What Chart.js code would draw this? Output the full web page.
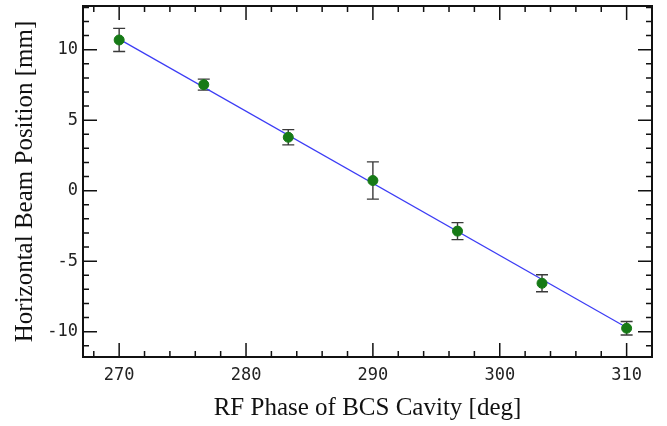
<!DOCTYPE html>
<html>
<head>
<meta charset="utf-8">
<script src="https://cdn.jsdelivr.net/npm/chart.js@4/dist/chart.umd.min.js"></script>
<style>
  html, body { margin: 0; padding: 0; background: #fff; }
  #wrap { width: 667px; height: 426px; }
</style>
</head>
<body>
<div id="wrap"><canvas id="chart"></canvas></div>
<script>
// RF phase settings [deg]
const phase = [270, 276.67, 283.33, 290, 296.67, 303.33, 310];
// measured horizontal beam position [mm]
const position = [10.69, 7.52, 3.79, 0.72, -2.87, -6.57, -9.76];
// error bar half widths [mm]
const posError = [0.82, 0.39, 0.54, 1.32, 0.6, 0.6, 0.48];
// straight line fit, read at both ends
const fitPhase = [270, 310];
const fitPosition = [10.75, -9.7];

const xTicks = [270, 280, 290, 300, 310];
const yTicks = [-10, -5, 0, 5, 10];
const xMinorStep = 2;
const yMinorStep = 1;

const tickFont = { family: 'DejaVu Sans Mono', size: 17 };
const titleFont = { family: 'Liberation Serif', size: 25 };

// error bars go under the markers
const errorBars = {
    id: 'errorBars',
    beforeDatasetsDraw(chart) {
        const { ctx, scales: { x, y } } = chart;
        ctx.save();
        ctx.strokeStyle = '#3a3a3a';
        ctx.lineWidth = 1.4;
        phase.forEach((p, i) => {
            const px = x.getPixelForValue(p);
            const top = y.getPixelForValue(position[i] + posError[i]);
            const bot = y.getPixelForValue(position[i] - posError[i]);
            ctx.beginPath();
            ctx.moveTo(px, top); ctx.lineTo(px, bot);
            ctx.moveTo(px - 6, top); ctx.lineTo(px + 6, top);
            ctx.moveTo(px - 6, bot); ctx.lineTo(px + 6, bot);
            ctx.stroke();
        });
        ctx.restore();
    }
};

// box frame with inward ticks on all four sides
const frame = {
    id: 'frame',
    afterDraw(chart) {
        const { ctx, chartArea: a, scales: { x, y } } = chart;
        ctx.save();
        ctx.strokeStyle = '#111';
        ctx.lineWidth = 1.5;
        const majX = new Set(xTicks);
        for (let v = Math.ceil(x.min / xMinorStep) * xMinorStep; v <= x.max; v += xMinorStep) {
            const px = x.getPixelForValue(v);
            const len = majX.has(v) ? 14 : 6;
            ctx.beginPath();
            ctx.moveTo(px, a.bottom); ctx.lineTo(px, a.bottom - len);
            ctx.moveTo(px, a.top); ctx.lineTo(px, a.top + len);
            ctx.stroke();
        }
        const majY = new Set(yTicks);
        for (let v = Math.ceil(y.min / yMinorStep) * yMinorStep; v <= y.max; v += yMinorStep) {
            const py = y.getPixelForValue(v);
            const len = majY.has(v) ? 14 : 6;
            ctx.beginPath();
            ctx.moveTo(a.left, py); ctx.lineTo(a.left + len, py);
            ctx.moveTo(a.right, py); ctx.lineTo(a.right - len, py);
            ctx.stroke();
        }
        ctx.lineWidth = 2;
        ctx.strokeRect(a.left, a.top, a.right - a.left, a.bottom - a.top);
        ctx.restore();
    }
};

new Chart(document.getElementById('chart'), {
    type: 'scatter',
    data: {
        datasets: [
            {
                label: 'Measured',
                data: phase.map((p, i) => ({ x: p, y: position[i] })),
                backgroundColor: '#167a16',
                borderColor: '#167a16',
                pointRadius: 5,
                pointHoverRadius: 5,
                order: 1
            },
            {
                label: 'Fit',
                type: 'line',
                data: fitPhase.map((p, i) => ({ x: p, y: fitPosition[i] })),
                borderColor: '#3c3cf5',
                borderWidth: 1.2,
                pointRadius: 0,
                fill: false,
                order: 2
            }
        ]
    },
    options: {
        responsive: true,
        maintainAspectRatio: false,
        animation: false,
        events: [],
        layout: { padding: { left: 0, right: 15, top: 5, bottom: 0 } },
        plugins: { legend: { display: false }, tooltip: { enabled: false } },
        scales: {
            x: {
                type: 'linear',
                min: 267.15,
                max: 312,
                afterBuildTicks: s => { s.ticks = xTicks.map(v => ({ value: v })); },
                afterFit: s => { s.height = 69; s.paddingLeft = 0; s.paddingRight = 0; },
                grid: { display: false, drawTicks: false },
                border: { display: false },
                ticks: { font: tickFont, color: '#222', padding: 8, maxRotation: 0 },
                title: { display: true, text: 'RF Phase of BCS Cavity [deg]', font: titleFont, color: '#111', padding: { top: 0, bottom: 3 } }
            },
            y: {
                type: 'linear',
                min: -11.8,
                max: 13.1,
                afterBuildTicks: s => { s.ticks = yTicks.map(v => ({ value: v })); },
                afterFit: s => { s.width = 83; s.paddingTop = 0; s.paddingBottom = 0; },
                grid: { display: false, drawTicks: false },
                border: { display: false },
                ticks: { font: tickFont, color: '#222', padding: 5 },
                title: { display: true, text: 'Horizontal Beam Position [mm]', font: titleFont, color: '#111', padding: { top: 10, bottom: 0 } }
            }
        }
    },
    plugins: [errorBars, frame]
});
</script>
</body>
</html>
